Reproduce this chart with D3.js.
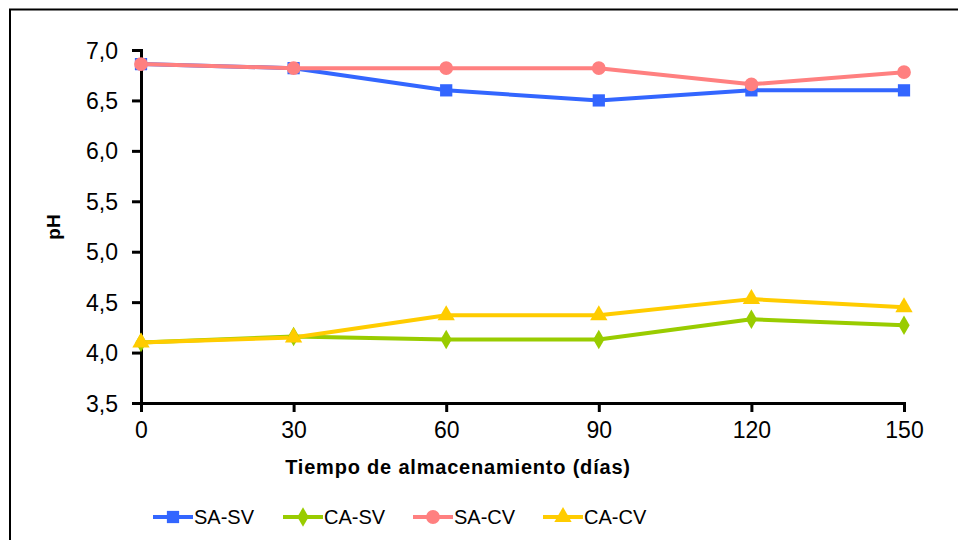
<!DOCTYPE html>
<html><head><meta charset="utf-8">
<script src="https://cdn.jsdelivr.net/npm/d3@7"></script>
<style>body{margin:0;background:#fff}svg{display:block}</style>
</head><body>
<svg id="c" width="958" height="540"></svg>
<script>
const days = [0, 30, 60, 90, 120, 150];
const saSv = [6.86, 6.82, 6.60, 6.50, 6.60, 6.60];
const caSv = [4.10, 4.16, 4.13, 4.13, 4.33, 4.27];
const saCv = [6.86, 6.82, 6.82, 6.82, 6.66, 6.78];
const caCv = [4.10, 4.15, 4.37, 4.37, 4.53, 4.45];
const yTicks = [3.5, 4.0, 4.5, 5.0, 5.5, 6.0, 6.5, 7.0];
const seriesNames = ["SA-SV", "CA-SV", "SA-CV", "CA-CV"];

const series = [
  {name: seriesNames[0], vals: saSv, color: "#3366ff", sym: d3.symbolSquare, size: 150},
  {name: seriesNames[1], vals: caSv, color: "#99cc00", sym: d3.symbolDiamond, size: 110},
  {name: seriesNames[2], vals: saCv, color: "#ff8080", sym: d3.symbolCircle, size: 150},
  {name: seriesNames[3], vals: caCv, color: "#ffcc00", sym: d3.symbolTriangle, size: 130}
];

const svg = d3.select("#c");
const font = "'Liberation Sans', Arial, sans-serif";

// outer frame
svg.append("rect").attr("x", 10).attr("y", 9.5).attr("width", 960).attr("height", 560)
  .attr("fill", "none").attr("stroke", "#000").attr("stroke-width", 2);

const x = d3.scaleLinear().domain([0, 150]).range([141, 904]);
const y = d3.scaleLinear().domain([3.5, 7.0]).range([403, 50]);

const fmt = d => d.toFixed(1).replace(".", ",");

const yAxis = svg.append("g").attr("transform", "translate(141,0)")
  .call(d3.axisLeft(y).tickValues(yTicks).tickFormat(fmt).tickSize(9).tickPadding(14));
const xAxis = svg.append("g").attr("transform", "translate(0,403)")
  .call(d3.axisBottom(x).tickValues(days).tickSize(9).tickPadding(10));

[yAxis, xAxis].forEach(a => {
  a.attr("font-size", null).attr("font-family", null);
  a.select(".domain").attr("stroke", "#000").attr("stroke-width", 3);
  a.selectAll(".tick line").attr("stroke", "#000").attr("stroke-width", 3);
  a.selectAll(".tick text").attr("fill", "#000").style("font-family", font);
});
yAxis.selectAll(".tick text").attr("dy", "0.35em").style("font-size", "23px");
xAxis.selectAll(".tick text").style("font-size", "23px");

const line = d3.line().x((d, i) => x(days[i])).y(d => y(d));

series.forEach(s => {
  svg.append("path").datum(s.vals).attr("d", line)
    .attr("fill", "none").attr("stroke", s.color).attr("stroke-width", 4)
    .attr("stroke-linejoin", "round");
});
series.forEach(s => {
  svg.append("g").selectAll("path").data(s.vals).join("path")
    .attr("transform", (d, i) => `translate(${x(days[i])},${y(d)})`)
    .attr("d", d3.symbol().type(s.sym).size(s.size))
    .attr("fill", s.color);
});

// axis titles
svg.append("text").attr("x", 458).attr("y", 474).attr("text-anchor", "middle")
  .style("font-family", font).style("font-size", "20px").style("font-weight", "bold")
  .style("letter-spacing", "0.8px")
  .text("Tiempo de almacenamiento (días)");
svg.append("text").attr("transform", "translate(60,227) rotate(-90)").attr("text-anchor", "middle")
  .style("font-family", font).style("font-size", "19px").style("font-weight", "bold")
  .text("pH");

// legend
const legX = [153, 283, 413, 543];
series.forEach((s, i) => {
  const g = svg.append("g").attr("transform", `translate(${legX[i]},517)`);
  g.append("line").attr("x1", 0).attr("x2", 40).attr("stroke", s.color).attr("stroke-width", 4);
  g.append("path").attr("transform", "translate(20,0)")
    .attr("d", d3.symbol().type(s.sym).size(s.size)).attr("fill", s.color);
  g.append("text").attr("x", 41).attr("dy", "0.35em")
    .style("font-family", font).style("font-size", "20px").text(s.name);
});
</script>
</body></html>
